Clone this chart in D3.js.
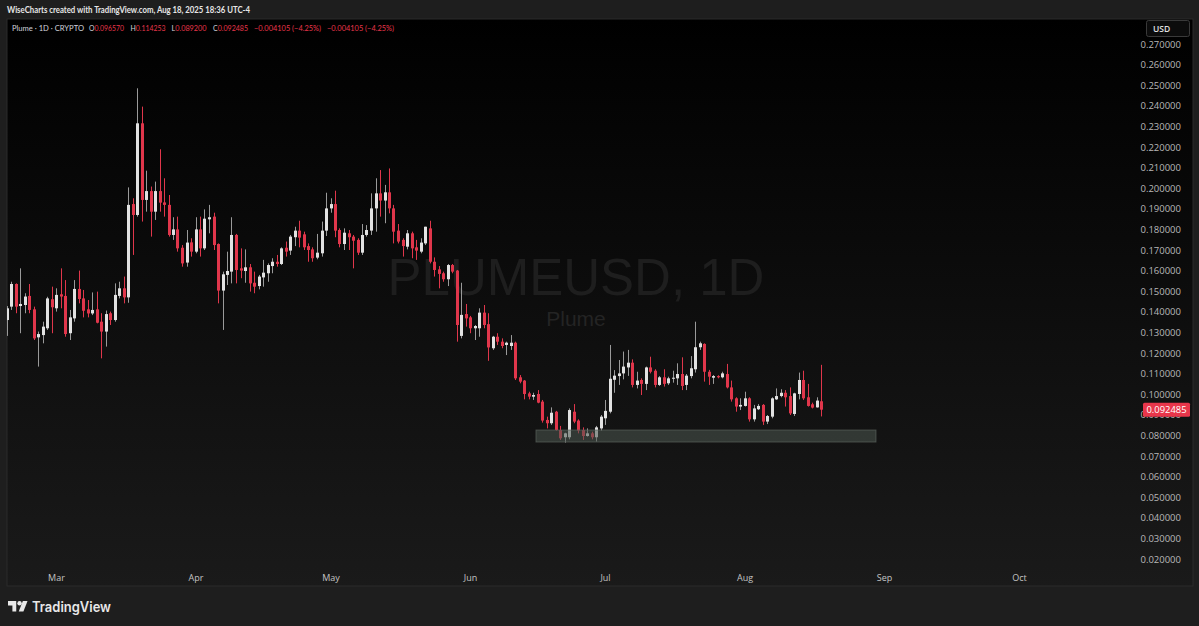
<!DOCTYPE html>
<html><head><meta charset="utf-8">
<script src="https://cdn.jsdelivr.net/npm/d3@7"></script>
<style>
html,body{margin:0;padding:0;background:#1e1e1e;overflow:hidden;}
svg{display:block;}
</style></head>
<body>
<svg id="c" width="1199" height="626"></svg>
<script>
// ---------- DATA ----------
const firstDate = "2025-02-18"; // one candle per day from here
const open = [
.1360,.1425,.1535,.1428,.1433,.1477,.1412,.1276,.1287,.1320,.1461,
.1417,.1485,.1477,.1296,.1368,.1511,.1465,.1412,.1392,.1412,.1352,.1304,.1393,.1360,.1477,.1514,.1470,.1923,.1870,.2315,
.1943,.1986,.1886,.1986,.1931,.1919,.1773,.1800,.1711,.1639,.1737,.1692,.1800,.1708,.1849,.1862,.1729,.1503,.1579,.1595,
.1773,.1611,.1598,.1616,.1541,.1525,.1567,.1587,.1622,.1643,.1632,.1711,.1697,.1762,.1794,.1776,.1719,.1703,.1663,.1684,
.1794,.1902,.1923,.1797,.1729,.1781,.1765,.1749,.1687,.1773,.1794,.1902,.1975,.1940,.1980,.1902,.1794,.1749,.1716,.1781,
.1713,.1692,.1732,.1805,.1643,.1606,.1587,.1558,.1627,.1600,.1283,.1389,.1373,.1320,.1320,.1396,.1340,.1223,.1279,.1255,
.1239,.1234,.1250,.1082,.1066,.1004,.0988,.1001,.0964,.0875,.0859,.0915,.0826,.0791,.0791,.0915,.0872,.0826,.0797,.0810,
.0791,.0834,.0883,.0915,.1070,.1088,.1101,.1130,.1153,.1045,.1069,.1050,.1130,.1114,.1045,.1082,.1053,.1075,.1077,.1098,
.1045,.1088,.1121,.1228,.1244,.1109,.1080,.1088,.1082,.1098,.1033,.0980,.0940,.0943,.0980,.0878,.0927,.0948,.0867,.0891,
.0975,.0991,.1007,.0991,.0904,.1001,.1069,.0985,.0951,.0936,.096570];
const high = [
.1428,.1546,.1538,.1611,.1490,.1535,.1425,.1304,.1352,.1473,.1522,
.1514,.1611,.1554,.1409,.1554,.1600,.1506,.1457,.1494,.1498,.1393,.1406,.1401,.1538,.1546,.1571,.2004,.1951,.2485,.2396,
.2085,.2008,.2032,.2189,.2048,.1967,.1859,.1862,.1724,.1797,.1757,.1859,.1862,.1897,.1919,.1881,.1732,.1595,.1692,.1859,
.1778,.1708,.1703,.1632,.1595,.1579,.1652,.1635,.1660,.1676,.1713,.1741,.1773,.1813,.1842,.1789,.1732,.1713,.1778,.1838,
.1978,.1951,.1988,.1805,.1805,.1797,.1773,.1757,.1826,.1821,.1975,.2048,.2088,.2016,.2096,.1919,.1826,.1757,.1797,.1789,
.1749,.1757,.1813,.1842,.1664,.1622,.1595,.1632,.1632,.1603,.1541,.1438,.1380,.1336,.1417,.1433,.1393,.1283,.1296,.1271,
.1255,.1287,.1255,.1093,.1069,.1012,.1007,.1020,.0972,.0891,.0936,.0919,.0846,.0813,.0931,.0952,.0878,.0839,.0834,.0818,
.0846,.0899,.0972,.1239,.1117,.1166,.1207,.1215,.1169,.1109,.1077,.1134,.1182,.1121,.1088,.1121,.1085,.1114,.1150,.1179,
.1098,.1185,.1352,.1255,.1247,.1118,.1093,.1092,.1109,.1147,.1066,.0985,.0980,.1012,.0985,.0948,.0952,.0952,.0899,.0985,
.1028,.1024,.1020,.1033,.1007,.1105,.1114,.1050,.0959,.0985,.114253];
const low = [
.1283,.1409,.1393,.1296,.1393,.1393,.1263,.1134,.1247,.1312,.1296,
.1401,.1417,.1279,.1263,.1352,.1441,.1373,.1373,.1384,.1344,.1174,.1231,.1336,.1352,.1465,.1441,.1444,.1676,.1862,.1838,
.1886,.1765,.1846,.1886,.1862,.1765,.1749,.1692,.1619,.1619,.1668,.1684,.1668,.1700,.1781,.1700,.1441,.1312,.1530,.1538,
.1538,.1563,.1541,.1498,.1490,.1509,.1522,.1546,.1587,.1619,.1627,.1668,.1676,.1719,.1713,.1700,.1643,.1643,.1655,.1668,
.1768,.1881,.1762,.1713,.1700,.1700,.1611,.1676,.1676,.1765,.1773,.1789,.1862,.1830,.1878,.1732,.1732,.1668,.1703,.1660,
.1652,.1684,.1724,.1635,.1571,.1514,.1546,.1525,.1587,.1255,.1271,.1328,.1296,.1263,.1279,.1320,.1162,.1215,.1239,.1223,
.1190,.1215,.1069,.1053,.0975,.0975,.0972,.0956,.0862,.0834,.0851,.0823,.0778,.0765,.0781,.0859,.0810,.0778,.0794,.0781,
.0770,.0823,.0851,.0907,.1007,.1045,.1072,.1089,.1033,.1028,.0996,.1020,.1101,.1033,.1040,.1037,.1045,.1056,.1045,.1020,
.1020,.1077,.1105,.1215,.1061,.1045,.1050,.1077,.1077,.1028,.0964,.0915,.0923,.0940,.0867,.0867,.0923,.0851,.0855,.0883,
.0972,.0985,.0940,.0899,.0894,.0975,.0972,.0940,.0931,.0935,.089200];
const close = [
.1417,.1535,.1425,.1438,.1474,.1409,.1271,.1292,.1328,.1465,.1422,
.1482,.1474,.1292,.1373,.1511,.1462,.1405,.1392,.1409,.1347,.1304,.1389,.1360,.1482,.1514,.1470,.1919,.1870,.2315,.1943,
.1986,.1886,.1986,.1930,.1919,.1773,.1800,.1708,.1635,.1736,.1692,.1800,.1708,.1852,.1859,.1724,.1503,.1582,.1598,.1773,
.1603,.1600,.1616,.1538,.1522,.1571,.1590,.1627,.1643,.1632,.1708,.1692,.1765,.1794,.1760,.1713,.1700,.1660,.1687,.1794,
.1902,.1923,.1794,.1729,.1784,.1762,.1745,.1687,.1773,.1797,.1902,.1975,.1940,.1980,.1902,.1789,.1741,.1719,.1781,.1708,
.1697,.1736,.1813,.1643,.1603,.1584,.1558,.1627,.1595,.1336,.1385,.1368,.1320,.1331,.1396,.1336,.1227,.1279,.1255,.1234,
.1250,.1250,.1077,.1061,.1001,.0988,.0996,.0959,.0872,.0859,.0910,.0826,.0786,.0810,.0923,.0867,.0823,.0797,.0810,.0791,
.0839,.0891,.0919,.1075,.1090,.1101,.1134,.1153,.1045,.1066,.1050,.1130,.1109,.1045,.1082,.1050,.1077,.1080,.1098,.1040,
.1090,.1126,.1228,.1247,.1109,.1085,.1088,.1082,.1101,.1033,.0975,.0940,.0948,.0980,.0878,.0931,.0943,.0867,.0894,.0980,
.0991,.1007,.0985,.0907,.1004,.1069,.0980,.0943,.0935,.0969,.092485];

const priceTicks = [0.02,0.03,0.04,0.05,0.06,0.07,0.08,0.09,0.10,0.11,0.12,0.13,0.14,0.15,0.16,0.17,0.18,0.19,0.20,0.21,0.22,0.23,0.24,0.25,0.26,0.27];
const monthTicks = ["2025-03-01","2025-04-01","2025-05-01","2025-06-01","2025-07-01","2025-08-01","2025-09-01","2025-10-01"];
const monthLabels = ["Mar","Apr","May","Jun","Jul","Aug","Sep","Oct"];
const zoneDates = ["2025-06-15T16:00:00Z","2025-08-30T05:00:00Z"];
const zonePrices = [0.0768, 0.0826];
const lastPrice = 0.092485;
const headerText = "WiseCharts created with TradingView.com, Aug 18, 2025 18:36 UTC-4";
const legendSymbol = "Plume · 1D · CRYPTO";
const legendKeys = ["O","H","L","C"];
const legendValues = ["0.096570","0.114253","0.089200","0.092485"];
const legendChanges = ["−0.004105 (−4.25%)","−0.004105 (−4.25%)"];
const watermark = ["PLUMEUSD, 1D", "Plume"];

// ---------- CHART ----------
const svg = d3.select("#c");
const W = 1199, H = 626;
const t0 = new Date(firstDate + "T00:00:00Z");
const candles = open.map((o,i)=>({date:d3.utcDay.offset(t0,i),o,h:high[i],l:low[i],c:close[i]}));

const x = d3.scaleUtc().domain([new Date("2025-03-01T00:00:00Z"), new Date("2025-10-01T00:00:00Z")]).range([56,1019]);
const y = d3.scaleLinear().domain([0.02,0.27]).range([559,44]);

const defs = svg.append("defs");
const grad = defs.append("linearGradient").attr("id","bg").attr("x1",0).attr("y1",0).attr("x2",0).attr("y2",1);
grad.append("stop").attr("offset","0%").attr("stop-color","#000000");
grad.append("stop").attr("offset","100%").attr("stop-color","#1a1a1a");
defs.append("clipPath").attr("id","plotclip").append("rect").attr("x",7).attr("y",19).attr("width",1130).attr("height",566);

svg.append("rect").attr("width",W).attr("height",H).attr("fill","#1e1e1e");
svg.append("rect").attr("x",7).attr("y",19).attr("width",1186).attr("height",567).attr("fill","url(#bg)").attr("stroke","#2b2b2b").attr("stroke-width",1);

// header
svg.append("text").attr("x",7).attr("y",12.5).attr("fill","#e6e6e6").attr("font-family","Lato, 'Open Sans', sans-serif")
  .attr("font-size",9).attr("font-weight",700).attr("textLength",243).attr("lengthAdjust","spacingAndGlyphs").text(headerText);

const legFont = "Lato, 'Open Sans', sans-serif";
const red = "#e8364b", grey = "#d1d4dc";
function legText(xp, str, col, len, fs){
  return svg.append("text").attr("x",xp).attr("y",30.5).attr("font-family",legFont).attr("font-size",fs)
    .attr("fill",col).attr("textLength",len).attr("lengthAdjust","spacingAndGlyphs").text(str);
}
legText(12, legendSymbol, grey, 72, 8);
const keyX = [89,130.5,171.5,213];
legendKeys.forEach((k,i)=>{
  const t = svg.append("text").attr("x",keyX[i]).attr("y",30.5).attr("font-family",legFont).attr("font-size",8.2)
    .attr("textLength",35).attr("lengthAdjust","spacingAndGlyphs");
  t.append("tspan").attr("fill",grey).text(k);
  t.append("tspan").attr("fill",red).text(legendValues[i]);
});
legText(254, legendChanges[0], red, 67, 8.2);
legText(327, legendChanges[1], red, 67, 8.2);

// watermark
svg.append("text").attr("x",576).attr("y",295).attr("text-anchor","middle").attr("font-family","'Liberation Sans', Arial, sans-serif").attr("font-size",51).attr("fill","#1e1e1e").text(watermark[0]);
svg.append("text").attr("x",576).attr("y",326).attr("text-anchor","middle").attr("font-family","'Liberation Sans', Arial, sans-serif").attr("font-size",21).attr("fill","#242424").text(watermark[1]);

// candles
const g = svg.append("g").attr("clip-path","url(#plotclip)");
const up = "#e2e2e2", upWick = "#9a9a9a", dn = "#e0364b";
g.selectAll("line.wick").data(candles).enter().append("line")
  .attr("x1",d=>Math.round(x(d.date))+0.5).attr("x2",d=>Math.round(x(d.date))+0.5)
  .attr("y1",d=>y(d.h)).attr("y2",d=>y(d.l))
  .attr("stroke",d=>d.c>=d.o?upWick:dn).attr("stroke-width",1);
g.selectAll("rect.body").data(candles).enter().append("rect")
  .attr("x",d=>Math.round(x(d.date))-1).attr("width",3)
  .attr("y",d=>y(Math.max(d.o,d.c)))
  .attr("height",d=>Math.max(1,Math.abs(y(d.o)-y(d.c))))
  .attr("fill",d=>d.c>=d.o?up:dn);

// zone
svg.append("rect")
  .attr("x",x(new Date(zoneDates[0]))).attr("width",x(new Date(zoneDates[1]))-x(new Date(zoneDates[0])))
  .attr("y",y(zonePrices[1])).attr("height",y(zonePrices[0])-y(zonePrices[1]))
  .attr("fill","#4d5851").attr("fill-opacity",0.55).attr("stroke","#5a635d").attr("stroke-opacity",0.7);

// price axis
const yAxis = d3.axisRight(y).tickValues(priceTicks).tickFormat(d3.format(".6f")).tickSize(0);
const ya = svg.append("g").attr("transform","translate(1181,0)").call(yAxis);
ya.select(".domain").remove();
ya.selectAll("text").attr("x",0).attr("text-anchor","end").attr("fill","#b8b8b8").attr("font-family","'Open Sans', sans-serif").attr("font-size",9.5);

// USD box
svg.append("rect").attr("x",1146.5).attr("y",20.5).attr("width",43).attr("height",16).attr("rx",2).attr("fill","#0c0c0c").attr("stroke","#3a3a3a");
svg.append("text").attr("x",1153).attr("y",32).attr("fill","#e0e0e0").attr("font-family","'Open Sans', sans-serif").attr("font-size",8.5).attr("font-weight",600).text("USD");

// last price label (covers the 0.090000 tick as in the reference)
svg.append("rect").attr("x",1143).attr("y",y(lastPrice)-7).attr("width",47).attr("height",14).attr("rx",1.5).attr("fill","#e8364b");
svg.append("text").attr("x",1166.5).attr("y",y(lastPrice)+3.5).attr("text-anchor","middle").attr("fill","#ffffff").attr("font-family","'Open Sans', sans-serif").attr("font-size",9).attr("textLength",40).attr("lengthAdjust","spacingAndGlyphs").text(d3.format(".6f")(lastPrice));

// time axis
const xAxis = d3.axisBottom(x).tickValues(monthTicks.map(s=>new Date(s+"T00:00:00Z"))).tickFormat((d,i)=>monthLabels[i]).tickSize(0);
const xa = svg.append("g").attr("transform","translate(0,573)").call(xAxis);
xa.select(".domain").remove();
xa.selectAll("text").attr("dy",0).attr("y",7.5).attr("fill","#c4c4c4").attr("font-family","'Open Sans', sans-serif").attr("font-size",9);

// TradingView logo
const logo = svg.append("g").attr("transform","translate(8,601) scale(0.55)").attr("fill","#e8e8e8");
logo.append("path").attr("d","M15 19H8V8H0V0h15z");
logo.append("circle").attr("cx",21).attr("cy",4).attr("r",4);
logo.append("path").attr("d","M28 19h-8.5L27 0h8.5z");
svg.append("text").attr("x",32).attr("y",611.5).attr("fill","#e8e8e8").attr("font-family","Inter, 'Open Sans', sans-serif").attr("font-size",14).attr("font-weight",600).attr("textLength",79).attr("lengthAdjust","spacingAndGlyphs").text("TradingView");
</script>
</body></html>
